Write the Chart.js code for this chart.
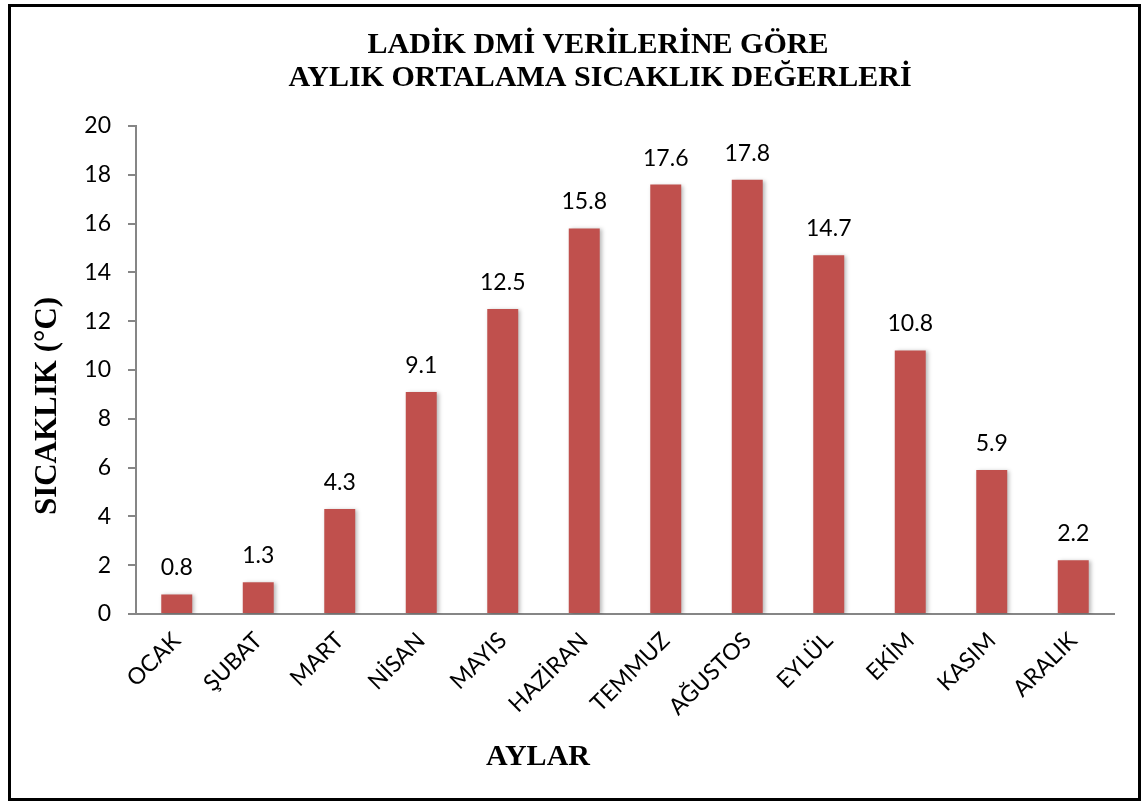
<!DOCTYPE html>
<html>
<head>
<meta charset="utf-8">
<script src="https://cdn.jsdelivr.net/npm/chart.js@4.4.1/dist/chart.umd.min.js"></script>
<style>
  html, body { margin: 0; padding: 0; background: #fff; }
  #wrap { position: relative; width: 1144px; height: 803px; }
  #frame { position: absolute; left: 8px; top: 4px; width: 1133px; height: 797px;
           border: 3px solid #000; box-sizing: border-box; pointer-events: none; }
</style>
</head>
<body>
<div id="wrap">
  <canvas id="myChart" width="1144" height="803"></canvas>
  <div id="frame"></div>
</div>
<script>
const months = ['OCAK', 'ŞUBAT', 'MART', 'NİSAN', 'MAYIS', 'HAZİRAN', 'TEMMUZ', 'AĞUSTOS', 'EYLÜL', 'EKİM', 'KASIM', 'ARALIK'];
const temps = [0.8, 1.3, 4.3, 9.1, 12.5, 15.8, 17.6, 17.8, 14.7, 10.8, 5.9, 2.2];
const titleLines = ['LADİK DMİ VERİLERİNE GÖRE', 'AYLIK ORTALAMA SICAKLIK DEĞERLERİ'];
const yTitle = 'SICAKLIK (°C)';
const xTitle = 'AYLAR';

const labelFont = 'Lato';
const serif = '"Liberation Serif", "Times New Roman", serif';

// soft shadow under bars, like the office chart
const barShadow = {
  id: 'barShadow',
  beforeDatasetsDraw(chart) {
    const ctx = chart.ctx;
    ctx.save();
    ctx.shadowColor = 'rgba(0,0,0,0.28)';
    ctx.shadowBlur = 4;
    ctx.shadowOffsetX = 2;
    ctx.shadowOffsetY = 1;
  },
  afterDatasetsDraw(chart) {
    chart.ctx.restore();
  }
};

// value labels above bars + titles
const extras = {
  id: 'extras',
  afterDraw(chart) {
    const ctx = chart.ctx;
    const meta = chart.getDatasetMeta(0);
    ctx.save();
    ctx.fillStyle = '#000';
    ctx.font = '23px ' + labelFont;
    ctx.textAlign = 'center';
    ctx.textBaseline = 'alphabetic';
    meta.data.forEach(function (bar, i) {
      ctx.fillText(temps[i].toFixed(1), bar.x, bar.y - 19);
    });

    ctx.font = 'bold 30px ' + serif;
    ctx.fillText(titleLines[0], 598, 53);
    ctx.fillText(titleLines[1], 600, 86);

    ctx.fillText(xTitle, 538, 765);

    ctx.font = 'bold 31px ' + serif;
    ctx.translate(56, 406);
    ctx.rotate(-Math.PI / 2);
    ctx.fillText(yTitle, 0, 0);
    ctx.restore();
  }
};

const ctx = document.getElementById('myChart').getContext('2d');
const myChart = new Chart(ctx, {
  type: 'bar',
  data: {
    labels: months,
    datasets: [{
      data: temps,
      backgroundColor: '#C0504D',
      borderWidth: 0,
      categoryPercentage: 1,
      barPercentage: 0.38
    }]
  },
  options: {
    responsive: false,
    animation: false,
    devicePixelRatio: 1,
    layout: { padding: { left: 0, top: 126, right: 30, bottom: 0 } },
    plugins: {
      legend: { display: false },
      title: { display: false },
      tooltip: { enabled: false }
    },
    scales: {
      x: {
        grid: { display: false, drawTicks: false },
        border: { display: true, color: '#868686', width: 2 },
        ticks: {
          color: '#000',
          font: { family: labelFont, size: 23 },
          minRotation: 45,
          maxRotation: 45,
          padding: 13,
          autoSkip: false
        },
        afterFit(scale) { scale.height = 189; }
      },
      y: {
        min: 0,
        max: 20,
        grid: { drawOnChartArea: false, drawTicks: true, tickLength: 8, color: '#868686', lineWidth: 2 },
        border: { display: true, color: '#868686', width: 2 },
        ticks: {
          stepSize: 2,
          color: '#000',
          font: { family: labelFont, size: 23 },
          padding: 17
        },
        afterFit(scale) { scale.width = 136; }
      }
    }
  },
  plugins: [barShadow, extras]
});
</script>
</body>
</html>
